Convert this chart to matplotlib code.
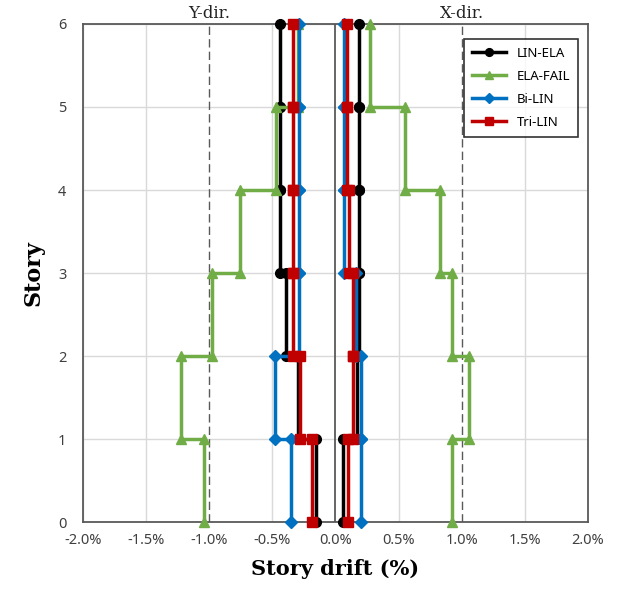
import numpy as np
import matplotlib.pyplot as plt

# story drift (%) of each story, stories 1..6
stories = [1, 2, 3, 4, 5, 6]
series = ['LIN-ELA', 'ELA-FAIL', 'Bi-LIN', 'Tri-LIN']

drift_y = {
    'LIN-ELA':  [-0.155, -0.30, -0.39, -0.44, -0.44, -0.44],
    'ELA-FAIL': [-1.04, -1.22, -0.98, -0.76, -0.47, -0.30],
    'Bi-LIN':   [-0.35, -0.48, -0.29, -0.29, -0.29, -0.29],
    'Tri-LIN':  [-0.185, -0.28, -0.34, -0.335, -0.335, -0.335],
}
drift_x = {
    'LIN-ELA':  [0.06, 0.17, 0.19, 0.19, 0.19, 0.19],
    'ELA-FAIL': [0.92, 1.06, 0.92, 0.83, 0.55, 0.27],
    'Bi-LIN':   [0.20, 0.20, 0.16, 0.07, 0.07, 0.07],
    'Tri-LIN':  [0.10, 0.14, 0.14, 0.11, 0.09, 0.09],
}

xticks = [-2.0, -1.5, -1.0, -0.5, 0.0, 0.5, 1.0, 1.5, 2.0]
xticklabels = ['-2.0%', '-1.5%', '-1.0%', '-0.5%', '0.0%', '0.5%', '1.0%', '1.5%', '2.0%']

styles = {
    'LIN-ELA':  dict(color='black', marker='o', ms=7),
    'ELA-FAIL': dict(color='#70AD47', marker='^', ms=7.5),
    'Bi-LIN':   dict(color='#0070C0', marker='D', ms=6),
    'Tri-LIN':  dict(color='#C00000', marker='s', ms=7),
}


def steps(d):
    # each story is a vertical segment from floor s-1 to floor s
    xs, ys = [], []
    for s, v in zip(stories, d):
        xs += [v, v]
        ys += [s - 1, s]
    return xs, ys


fig = plt.figure(figsize=(6.19, 5.94), dpi=100)
ax = fig.add_axes([0.134, 0.1212, 0.816, 0.8384])

for x in xticks:
    if x not in (-1.0, 0.0, 1.0):
        ax.axvline(x, color='#d9d9d9', lw=1, zorder=0)
for s in range(7):
    ax.axhline(s, color='#d9d9d9', lw=1, zorder=0)
ax.axvline(-1.0, color='#595959', lw=1, ls=(0, (6, 3)), zorder=1)
ax.axvline(1.0, color='#595959', lw=1, ls=(0, (6, 3)), zorder=1)
ax.axvline(0.0, color='#595959', lw=1.3, zorder=1)

for name in series:
    st = styles[name]
    for i, d in enumerate((drift_y[name], drift_x[name])):
        xs, ys = steps(d)
        ax.plot(xs, ys, color=st['color'], marker=st['marker'], ms=st['ms'],
                lw=2.5, label=name if i == 0 else None, zorder=3, clip_on=False)

ax.set_xlim(-2.0, 2.0)
ax.set_ylim(0, 6)
ax.set_xticks(xticks)
ax.set_xticklabels(xticklabels)
ax.set_yticks(range(7))
ax.tick_params(length=0, labelsize=10.5, colors='#404040', pad=8)
ax.tick_params(axis='y', pad=12)
for lab in ax.get_xticklabels() + ax.get_yticklabels():
    lab.set_family('Noto Sans')
for sp in ax.spines.values():
    sp.set_color('#595959')
    sp.set_linewidth(1.3)

ax.text(-1.0, 6.03, 'Y-dir.', ha='center', va='bottom', fontsize=12,
        family='DejaVu Serif', color='#222222')
ax.text(1.0, 6.03, 'X-dir.', ha='center', va='bottom', fontsize=12,
        family='DejaVu Serif', color='#222222')

ax.set_xlabel('Story drift (%)', fontsize=15, fontweight='bold',
              family='DejaVu Serif', labelpad=8)
ax.set_ylabel('Story', fontsize=16, fontweight='bold',
              family='DejaVu Serif', labelpad=10)

leg = ax.legend(loc='upper right', bbox_to_anchor=(0.993, 0.983), fancybox=False,
                edgecolor='black', fontsize=9.5, handlelength=2.6,
                borderpad=0.6, labelspacing=0.75, markerscale=0.8)
leg.get_frame().set_linewidth(1.2)
leg.set_zorder(5)
for t in leg.get_texts():
    t.set_family('Noto Sans')

fig.savefig('out.png', dpi=100)
